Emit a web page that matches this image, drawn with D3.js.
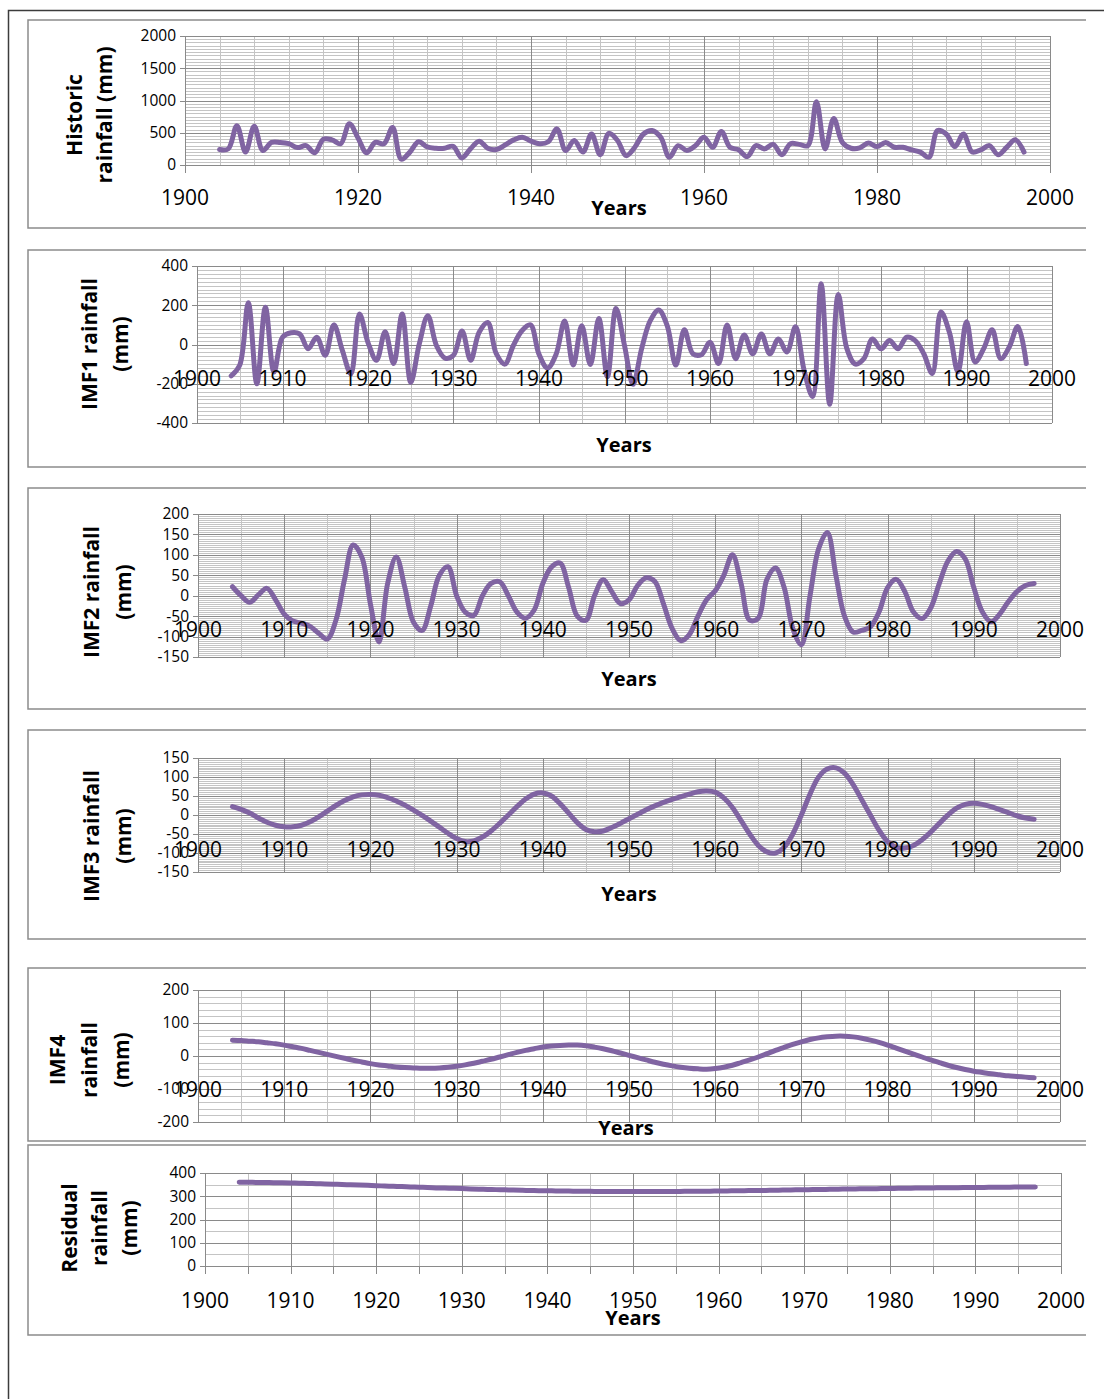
<!DOCTYPE html>
<html>
<head>
<meta charset="utf-8">
<script src="https://cdn.jsdelivr.net/npm/d3@7"></script>
<style>
    body { margin: 0; background: #fff; }
    svg { display: block; }
    text { font-family: 'Open Sans', sans-serif; fill: #000; }
</style>
</head>
<body>
<script>
// yearly series, 1904 - 1997
var years = d3.range(1904, 1998);

var historic = [240, 250, 610, 200, 600, 225, 350, 350, 330, 270,
    300, 190, 400, 390, 330, 640, 420, 190, 350, 330,
    580, 90, 200, 360, 280, 260, 260, 290, 110, 250,
    370, 260, 240, 310, 390, 430, 370, 330, 360, 560,
    225, 380, 200, 480, 160, 490, 380, 145, 275, 480,
    535, 430, 120, 300, 225, 300, 430, 275, 520, 275,
    235, 130, 300, 250, 320, 160, 330, 320, 300, 980,
    250, 720, 350, 260, 265, 340, 285, 350, 275, 275,
    235, 200, 120, 535, 480, 285, 480, 200, 235, 300,
    160, 275, 390, 200];

var imf1 = [-160, -105, 213, -200, 190, -140, 37, 60, 54, -22,
    37, -55, 100, -30, -150, 155, 10, -80, 65, -97,
    155, -193, 3, 146, -5, -69, -55, 69, -80, 62,
    112, -47, -100, -5, 70, 100, -50, -120, -50, 120,
    -105, 95, -102, 132, -164, 183, -5, -203, -22, 120,
    176, 95, -105, 75, -47, -52, 12, -97, 100, -72,
    49, -47, 54, -47, 28, -38, 91, -130, -265, 310,
    -305, 255, -20, -100, -72, 28, -22, 20, -22, 37,
    20, -47, -148, 166, 62, -140, 116, -89, -22, 75,
    -72, -13, 92, -97];

var imf2 = [22, 0, -16, 2, 18, -10, -45, -62, -67, -75,
    -92, -106, -60, 40, 124, 95, -20, -113, 30, 95,
    20, -65, -85, -25, 50, 71, 0, -40, -48, 0,
    30, 34, 0, -40, -55, -35, 30, 70, 80, 20,
    -50, -60, 0, 39, 10, -19, -10, 25, 44, 35,
    -20, -80, -110, -95, -50, -10, 12, 50, 100, 30,
    -60, -55, 40, 68, 20, -80, -120, 0, 115, 155,
    50, -50, -89, -85, -76, -40, 20, 40, 10, -40,
    -56, -30, 30, 85, 108, 90, 20, -40, -64, -45,
    -15, 10, 25, 30];

var imf3 = [22, 15, 5, -8, -19, -27, -31, -31, -27, -18,
    -5, 10, 25, 38, 48, 53, 54, 52, 46, 37,
    26, 13, -1, -16, -32, -48, -62, -70, -68, -58,
    -42, -22, 0, 22, 42, 55, 58, 50, 30, 5,
    -20, -38, -44, -42, -33, -22, -10, 2, 14, 24,
    33, 41, 48, 55, 61, 63, 60, 45, 20, -15,
    -50, -80, -97, -100, -85, -50, 0, 55, 100, 121,
    124, 110, 80, 40, 0, -40, -70, -85, -87, -80,
    -65, -45, -22, 0, 18, 28, 31, 28, 22, 14,
    6, -2, -8, -11];

var imf4 = [48, 47, 45, 43, 40, 37, 33, 28, 23, 17,
    11, 5, -1, -7, -13, -18, -23, -27, -30, -33,
    -35, -36, -37, -37, -36, -34, -31, -27, -22, -16,
    -10, -3, 4, 11, 17, 22, 27, 30, 32, 33,
    33, 31, 27, 22, 16, 9, 2, -5, -12, -19,
    -25, -30, -34, -37, -39, -40, -38, -34, -28, -20,
    -12, -3, 7, 17, 26, 35, 43, 50, 55, 58,
    60, 60, 58, 54, 48, 41, 33, 24, 15, 6,
    -3, -12, -20, -28, -35, -41, -46, -50, -54, -57,
    -60, -62, -64, -66];

var residual = [360, 360, 359.5, 359, 358.5, 358, 357, 356, 355, 354,
    353, 352, 350.5, 349, 348, 347, 345.5, 344, 343, 341.5,
    340, 339, 337.5, 336, 335, 334, 333, 331.5, 330.5, 329.5,
    328.5, 327.5, 326.5, 325.5, 325, 324, 323.5, 323, 322.5, 322,
    321.5, 321, 320.5, 320.5, 320, 320, 320, 320, 320, 320,
    320.5, 320.5, 321, 321, 321.5, 322, 322.5, 323, 323.5, 324,
    324.5, 325, 325.5, 326, 327, 327.5, 328, 328.5, 329, 330,
    330.5, 331, 331.5, 332, 332.5, 333, 333.5, 334, 334.5, 335,
    335.5, 336, 336.5, 337, 337, 337.5, 338, 338, 338.5, 339,
    339, 339.5, 340, 340];

var panels = [
    { values: historic, title: ['Historic', 'rainfall (mm)'], titleX: [75, 105], titleY: 115,
      box: [20, 228], x: [185, 1050], y: [165, 36], yDomain: [0, 2000], yMajor: 500, yMinor: 50,
      xMajor: 20, xMinor: 4, labelStep: 20, labelY: 198, yearsX: 619, yearsY: 208, tickStep: 20 },
    { values: imf1, title: ['IMF1 rainfall', '(mm)'], titleX: [90, 121], titleY: 344,
      box: [250, 467], x: [197, 1052], y: [423, 266], yDomain: [-400, 400], yMajor: 200, yMinor: 20,
      xMajor: 10, xMinor: 5, labelStep: 10, labelY: 379, yearsX: 624, yearsY: 445 },
    { values: imf2, title: ['IMF2 rainfall', '(mm)'], titleX: [92, 124], titleY: 592,
      box: [488, 709], x: [198, 1060], y: [657, 514], yDomain: [-150, 200], yMajor: 50, yMinor: 5,
      xMajor: 10, xMinor: 5, labelStep: 10, labelY: 630, yearsX: 629, yearsY: 679 },
    { values: imf3, title: ['IMF3 rainfall', '(mm)'], titleX: [92, 124], titleY: 836,
      box: [730, 939], x: [198, 1060], y: [872, 758], yDomain: [-150, 150], yMajor: 50, yMinor: 5,
      xMajor: 10, xMinor: 5, labelStep: 10, labelY: 850, yearsX: 629, yearsY: 894 },
    { values: imf4, title: ['IMF4', 'rainfall', '(mm)'], titleX: [58, 90, 122], titleY: 1060,
      box: [968, 1141], x: [198, 1060], y: [1122, 990], yDomain: [-200, 200], yMajor: 100, yMinor: 20,
      xMajor: 10, xMinor: 5, labelStep: 10, labelY: 1090, yearsX: 626, yearsY: 1128 },
    { values: residual, title: ['Residual', 'rainfall', '(mm)'], titleX: [70, 100, 130], titleY: 1228,
      box: [1145, 1335], x: [205, 1061], y: [1266, 1173], yDomain: [0, 400], yMajor: 100, yMinor: 50,
      xMajor: 10, xMinor: 5, labelStep: 10, labelY: 1301, yearsX: 633, yearsY: 1318, tickStep: 5 }
];

var svg = d3.select('body').append('svg')
    .attr('width', 1104)
    .attr('height', 1399);

// outer frame
svg.append('path')
    .attr('d', 'M8.5,1399 L8.5,10.5 L1104,10.5')
    .attr('fill', 'none')
    .attr('stroke', '#3c3c3c')
    .attr('stroke-width', 1.5);

var drawPanel = function (p) {
    var g = svg.append('g');

    // chart box, open on the right side
    g.append('path')
        .attr('d', 'M1086,' + p.box[0] + ' L28,' + p.box[0] + ' L28,' + p.box[1] + ' L1086,' + p.box[1])
        .attr('fill', 'none')
        .attr('stroke', '#8c8c8c')
        .attr('stroke-width', 1.5);

    var x = d3.scaleLinear().domain([1900, 2000]).range(p.x);
    var y = d3.scaleLinear().domain(p.yDomain).range(p.y);

    var grid = g.append('g').attr('shape-rendering', 'crispEdges');

    var yMinorVals = d3.range(p.yDomain[0], p.yDomain[1] + 0.001, p.yMinor)
        .filter(function (v) { return v % p.yMajor !== 0; });
    var yMajorVals = d3.range(p.yDomain[0], p.yDomain[1] + 0.001, p.yMajor);
    var xMinorVals = d3.range(1900, 2000.001, p.xMinor)
        .filter(function (v) { return (v - 1900) % p.xMajor !== 0; });
    var xMajorVals = d3.range(1900, 2000.001, p.xMajor);

    grid.selectAll('.hmin').data(yMinorVals).enter().append('line')
        .attr('x1', p.x[0]).attr('x2', p.x[1])
        .attr('y1', function (d) { return Math.round(y(d)) + 0.5; })
        .attr('y2', function (d) { return Math.round(y(d)) + 0.5; })
        .attr('stroke', '#c4c4c4');

    grid.selectAll('.vmin').data(xMinorVals).enter().append('line')
        .attr('y1', p.y[1]).attr('y2', p.y[0])
        .attr('x1', function (d) { return Math.round(x(d)) + 0.5; })
        .attr('x2', function (d) { return Math.round(x(d)) + 0.5; })
        .attr('stroke', '#c4c4c4');

    grid.selectAll('.hmaj').data(yMajorVals).enter().append('line')
        .attr('x1', p.x[0]).attr('x2', p.x[1])
        .attr('y1', function (d) { return Math.round(y(d)) + 0.5; })
        .attr('y2', function (d) { return Math.round(y(d)) + 0.5; })
        .attr('stroke', '#8a8a8a');

    grid.selectAll('.vmaj').data(xMajorVals).enter().append('line')
        .attr('y1', p.y[1]).attr('y2', p.y[0])
        .attr('x1', function (d) { return Math.round(x(d)) + 0.5; })
        .attr('x2', function (d) { return Math.round(x(d)) + 0.5; })
        .attr('stroke', '#8a8a8a');

    // y ticks on the left
    grid.selectAll('.ytick').data(yMajorVals).enter().append('line')
        .attr('x1', p.x[0] - 5).attr('x2', p.x[0])
        .attr('y1', function (d) { return Math.round(y(d)) + 0.5; })
        .attr('y2', function (d) { return Math.round(y(d)) + 0.5; })
        .attr('stroke', '#8a8a8a');

    // x ticks below the bottom axis
    if (p.tickStep) {
        grid.selectAll('.xtick').data(d3.range(1900, 2000.001, p.tickStep)).enter().append('line')
            .attr('y1', p.y[0]).attr('y2', p.y[0] + 8)
            .attr('x1', function (d) { return Math.round(x(d)) + 0.5; })
            .attr('x2', function (d) { return Math.round(x(d)) + 0.5; })
            .attr('stroke', '#8a8a8a');
    }

    g.selectAll('.ylab').data(yMajorVals).enter().append('text')
        .attr('x', p.x[0] - 9)
        .attr('y', function (d) { return y(d); })
        .attr('dy', '0.35em')
        .attr('text-anchor', 'end')
        .style('font-size', '15.5px')
        .text(function (d) { return String(d); });

    var line = d3.line()
        .x(function (d, i) { return x(years[i]); })
        .y(function (d) { return y(d); })
        .curve(d3.curveCatmullRom.alpha(0.5));

    g.append('path')
        .datum(p.values)
        .attr('d', line)
        .attr('fill', 'none')
        .attr('stroke', '#8064a2')
        .attr('stroke-width', 5)
        .attr('stroke-linecap', 'round')
        .attr('stroke-linejoin', 'round');

    g.selectAll('.xlab').data(d3.range(1900, 2000.001, p.labelStep)).enter().append('text')
        .attr('x', function (d) { return x(d); })
        .attr('y', p.labelY)
        .attr('dy', '0.35em')
        .attr('text-anchor', 'middle')
        .style('font-size', '21px')
        .text(function (d) { return String(d); });

    g.append('text')
        .attr('x', p.yearsX)
        .attr('y', p.yearsY)
        .attr('dy', '0.35em')
        .attr('text-anchor', 'middle')
        .style('font-size', '20px')
        .style('font-weight', 'bold')
        .text('Years');

    p.title.forEach(function (t, i) {
        g.append('text')
            .attr('transform', 'translate(' + p.titleX[i] + ',' + p.titleY + ') rotate(-90)')
            .attr('dy', '0.35em')
            .attr('text-anchor', 'middle')
            .style('font-size', '21px')
            .style('font-weight', 'bold')
            .text(t);
    });
};

panels.forEach(drawPanel);
</script>
</body>
</html>
